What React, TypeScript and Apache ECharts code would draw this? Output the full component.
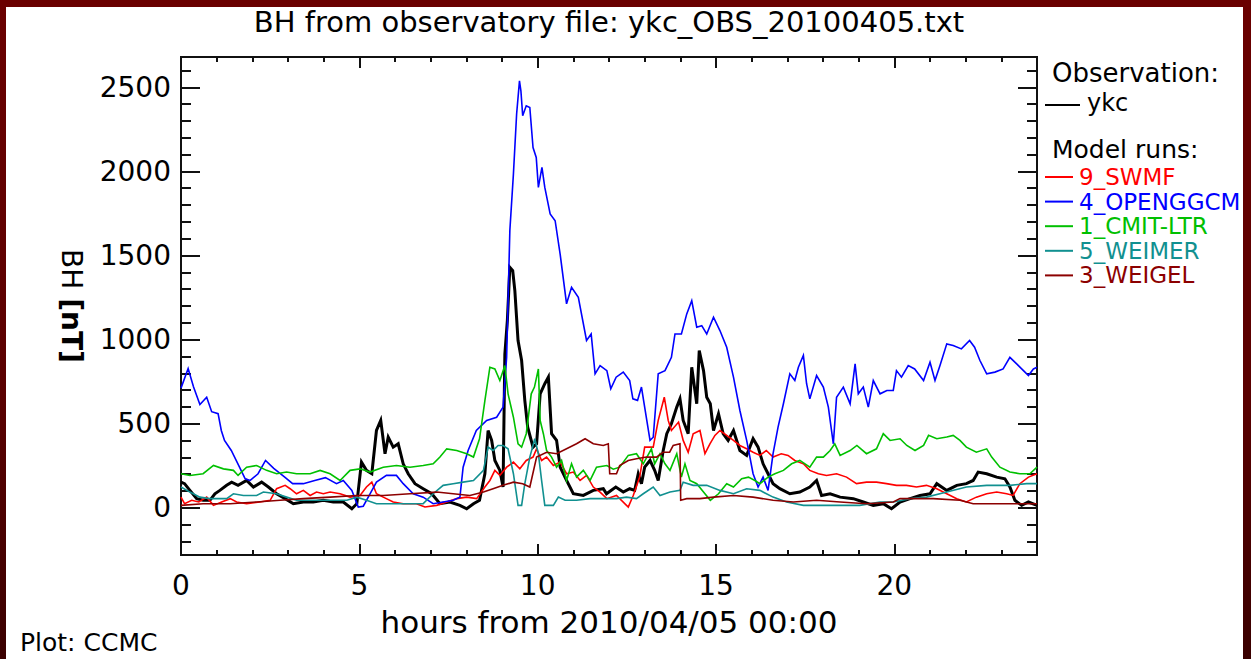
import React, { useEffect, useRef } from "react";
import * as echarts from "echarts";

// Magnetic perturbation BH at station ykc, 2010-04-05, observation vs. model runs.
// Each series: [hours from 2010/04/05 00:00, BH in nT]
const obsYkc: [number, number][] = [
  [0, 153], [0.1, 144], [0.25, 104], [0.44, 55], [0.62, 45], [0.81, 45], [0.95, 84], [1.09, 104],
  [1.28, 134], [1.42, 153], [1.6, 134], [1.84, 163], [2.03, 124], [2.26, 153], [2.45, 124],
  [2.68, 84], [2.92, 55], [3.15, 25], [3.43, 35], [3.71, 35], [3.99, 45], [4.27, 35], [4.55, 35],
  [4.79, -5], [4.93, 25], [5.06, 272], [5.2, 223], [5.35, 203], [5.48, 460], [5.6, 520],
  [5.72, 322], [5.81, 421], [5.95, 361], [6.09, 381], [6.23, 262], [6.37, 203], [6.56, 144],
  [6.79, 114], [7.03, 84], [7.26, 25], [7.54, 35], [7.82, 15], [8.01, -5], [8.2, 25], [8.37, 45],
  [8.52, 203], [8.61, 460], [8.71, 401], [8.8, 282], [8.94, 223], [9.03, 124], [9.08, 915],
  [9.15, 1113], [9.22, 1430], [9.3, 1410], [9.36, 1292], [9.45, 995], [9.55, 876], [9.64, 638],
  [9.72, 480], [9.87, 361], [9.97, 381], [10.07, 678], [10.2, 738], [10.3, 777], [10.39, 441],
  [10.53, 401], [10.63, 242], [10.81, 163], [11.0, 84], [11.28, 74], [11.56, 104], [11.84, 114],
  [11.93, 84], [12.19, 124], [12.4, 94], [12.58, 114], [12.72, 104], [12.82, 203], [12.91, 144],
  [13.0, 242], [13.15, 282], [13.28, 223], [13.38, 163], [13.52, 341], [13.62, 441], [13.75, 500],
  [13.9, 599], [13.99, 648], [14.08, 520], [14.22, 441], [14.32, 836], [14.46, 619], [14.53, 935],
  [14.65, 816], [14.74, 658], [14.84, 619], [14.93, 460], [15.07, 559], [15.2, 441], [15.34, 401],
  [15.49, 460], [15.67, 341], [15.86, 312], [16.04, 411], [16.18, 361], [16.32, 262], [16.46, 203],
  [16.6, 144], [16.79, 114], [17.07, 84], [17.35, 94], [17.63, 124], [17.82, 163], [17.96, 74],
  [18.2, 84], [18.48, 64], [18.85, 55], [19.13, 35], [19.41, 15], [19.69, 25], [19.92, -5],
  [20.16, 35], [20.44, 55], [20.72, 74], [21.0, 84], [21.19, 144], [21.47, 104], [21.75, 134],
  [22.02, 144], [22.21, 163], [22.35, 213], [22.59, 203], [22.87, 183], [23.1, 173], [23.24, 124],
  [23.38, 45], [23.57, 15], [23.76, 35], [24, 15],
];

const runSwmf: [number, number][] = [
  [0, 64], [0.1, 25], [0.3, 45], [0.5, 35], [0.72, 64], [0.91, 15], [1.14, 35], [1.38, 55],
  [1.56, 35], [1.84, 25], [2.21, 35], [2.5, 45], [2.68, 114], [2.92, 134], [3.06, 114], [3.24, 84],
  [3.43, 104], [3.62, 74], [3.8, 94], [3.99, 84], [4.18, 94], [4.46, 84], [4.74, 64], [5.02, 74],
  [5.2, 124], [5.35, 153], [5.48, 84], [5.67, 64], [5.95, 35], [6.23, 25], [6.6, 25], [6.84, 5],
  [7.17, 15], [7.45, 35], [7.73, 55], [8.01, 64], [8.29, 55], [8.52, 124], [8.66, 163], [8.8, 223],
  [8.94, 193], [9.13, 242], [9.32, 272], [9.5, 232], [9.68, 282], [9.87, 302], [9.97, 351],
  [10.11, 282], [10.25, 302], [10.44, 252], [10.63, 272], [10.81, 203], [11.0, 213], [11.19, 163],
  [11.37, 193], [11.56, 124], [11.75, 94], [11.94, 55], [12.21, 74], [12.54, 5], [12.68, 74],
  [12.86, 183], [13.0, 361], [13.24, 361], [13.38, 520], [13.55, 658], [13.66, 520], [13.75, 460],
  [13.95, 510], [14.08, 401], [14.22, 331], [14.36, 441], [14.55, 460], [14.69, 322], [14.83, 381],
  [14.97, 431], [15.11, 460], [15.3, 431], [15.49, 401], [15.67, 371], [15.86, 351], [16.04, 331],
  [16.23, 312], [16.41, 341], [16.6, 302], [16.83, 322], [17.02, 312], [17.21, 282], [17.45, 262],
  [17.63, 223], [17.87, 203], [18.1, 193], [18.38, 203], [18.66, 183], [18.94, 144], [19.22, 153],
  [19.5, 153], [19.78, 144], [20.06, 134], [20.34, 134], [20.62, 124], [20.9, 134], [21.19, 114],
  [21.47, 84], [21.75, 55], [22.02, 35], [22.3, 64], [22.59, 84], [22.87, 94], [23.15, 84],
  [23.33, 74], [23.52, 144], [23.76, 183], [24, 203],
];

const runOpenggcm: [number, number][] = [
  [0, 712], [0.2, 828], [0.35, 720], [0.53, 615], [0.72, 658], [0.86, 572], [1.04, 560],
  [1.13, 460], [1.22, 401], [1.41, 341], [1.64, 242], [1.8, 173], [1.94, 163], [2.16, 203],
  [2.37, 282], [2.6, 235], [2.9, 185], [3.13, 144], [3.43, 144], [3.75, 163], [4.05, 180],
  [4.36, 144], [4.55, 163], [4.79, 104], [4.97, 5], [5.11, 10], [5.3, 84], [5.48, 153],
  [5.76, 193], [6.04, 193], [6.23, 144], [6.51, 84], [6.79, 64], [7.07, 25], [7.35, 35],
  [7.63, 45], [7.82, 64], [7.91, 242], [8.05, 341], [8.28, 460], [8.57, 520], [8.85, 539],
  [9.03, 599], [9.13, 895], [9.22, 1648], [9.32, 1984], [9.41, 2341], [9.49, 2538], [9.53, 2479],
  [9.58, 2331], [9.68, 2390], [9.78, 2380], [9.87, 2142], [9.96, 2083], [10.02, 1905],
  [10.12, 2024], [10.2, 1905], [10.35, 1747], [10.49, 1707], [10.63, 1509], [10.81, 1213],
  [10.95, 1311], [11.14, 1252], [11.37, 995], [11.5, 1034], [11.61, 797], [11.75, 846],
  [11.94, 816], [12.05, 708], [12.2, 777], [12.4, 807], [12.58, 757], [12.67, 648], [12.8, 639],
  [12.91, 718], [13.0, 599], [13.15, 401], [13.24, 420], [13.38, 797], [13.57, 816], [13.75, 895],
  [13.85, 1034], [14.03, 1034], [14.18, 1153], [14.32, 1232], [14.46, 1074], [14.6, 1083],
  [14.74, 1034], [14.93, 1133], [15.11, 1054], [15.3, 955], [15.49, 777], [15.67, 579],
  [15.86, 401], [16.04, 203], [16.18, 124], [16.32, 183], [16.46, 104], [16.6, 322], [16.74, 480],
  [16.89, 619], [17.07, 797], [17.21, 757], [17.31, 836], [17.45, 906], [17.54, 738], [17.63, 648],
  [17.82, 787], [18.01, 718], [18.15, 599], [18.29, 381], [18.38, 658], [18.57, 718], [18.76, 619],
  [18.9, 856], [18.99, 678], [19.13, 718], [19.27, 599], [19.41, 757], [19.6, 678], [19.79, 698],
  [19.97, 698], [20.06, 816], [20.2, 777], [20.39, 846], [20.57, 826], [20.82, 757], [21.0, 866],
  [21.14, 757], [21.28, 846], [21.47, 975], [21.65, 965], [21.88, 945], [22.11, 995], [22.25, 955],
  [22.4, 876], [22.59, 797], [22.82, 807], [23.05, 826], [23.24, 895], [23.43, 856], [23.62, 816],
  [23.76, 787], [23.9, 826], [24, 836],
];

const runCmitLtr: [number, number][] = [
  [0, 203], [0.25, 193], [0.62, 203], [0.91, 252], [1.19, 232], [1.47, 223], [1.6, 193],
  [1.84, 242], [2.12, 252], [2.4, 223], [2.68, 203], [2.96, 213], [3.24, 203], [3.62, 203],
  [3.9, 223], [4.18, 203], [4.46, 163], [4.74, 223], [5.02, 232], [5.3, 213], [5.67, 242],
  [6.04, 252], [6.42, 242], [6.79, 252], [7.07, 262], [7.26, 302], [7.45, 351], [7.73, 341],
  [8.01, 322], [8.2, 302], [8.37, 411], [8.52, 638], [8.66, 836], [8.8, 826], [8.94, 757],
  [9.08, 846], [9.17, 678], [9.32, 539], [9.45, 381], [9.55, 361], [9.68, 441], [9.82, 678],
  [9.91, 718], [10.02, 826], [10.07, 520], [10.16, 441], [10.25, 341], [10.39, 302], [10.53, 242],
  [10.67, 282], [10.81, 163], [10.95, 262], [11.09, 183], [11.28, 223], [11.47, 163], [11.65, 242],
  [11.94, 252], [12.12, 230], [12.3, 242], [12.54, 312], [12.77, 322], [12.96, 262], [13.19, 351],
  [13.28, 262], [13.43, 322], [13.57, 262], [13.71, 223], [13.9, 322], [14.03, 183], [14.13, 262],
  [14.27, 163], [14.46, 144], [14.65, 94], [14.84, 45], [15.07, 84], [15.3, 144], [15.49, 124],
  [15.72, 173], [15.91, 183], [16.09, 163], [16.23, 144], [16.46, 183], [16.65, 203], [16.89, 223],
  [17.12, 262], [17.35, 282], [17.63, 242], [17.82, 302], [18.01, 302], [18.2, 341], [18.33, 381],
  [18.48, 312], [18.76, 341], [18.95, 371], [19.22, 322], [19.5, 351], [19.69, 441], [19.88, 401],
  [20.16, 411], [20.35, 371], [20.58, 341], [20.82, 371], [20.96, 431], [21.19, 411], [21.47, 421],
  [21.65, 431], [21.84, 401], [22.02, 361], [22.3, 331], [22.59, 351], [22.73, 302], [22.96, 242],
  [23.24, 213], [23.52, 203], [23.8, 203], [24, 242],
];

const runWeimer: [number, number][] = [
  [0, 124], [0.25, 94], [0.53, 64], [0.81, 55], [1.28, 55], [1.47, 84], [1.75, 74], [2.12, 74],
  [2.31, 94], [2.68, 84], [2.96, 64], [3.24, 45], [3.62, 45], [4.18, 45], [4.65, 45], [4.93, 64],
  [5.2, 45], [5.48, 25], [6.23, 25], [6.79, 25], [7.07, 84], [7.35, 134], [7.63, 144], [7.91, 153],
  [8.2, 163], [8.48, 223], [8.61, 361], [8.75, 341], [8.89, 371], [9.03, 371], [9.17, 351],
  [9.32, 203], [9.45, 15], [9.55, 15], [9.64, 144], [9.78, 302], [9.92, 411], [10.02, 322],
  [10.11, 163], [10.2, 15], [10.44, 15], [10.58, 64], [10.77, 45], [11.09, 45], [11.47, 55],
  [11.84, 55], [12.21, 55], [12.49, 64], [12.77, 55], [12.96, 84], [13.24, 124], [13.43, 74],
  [13.71, 94], [13.99, 104], [14.08, 153], [14.36, 134], [14.74, 134], [15.11, 104], [15.49, 84],
  [15.86, 114], [16.23, 104], [16.6, 64], [16.98, 35], [17.45, 15], [18.29, 15], [19.03, 15],
  [19.6, 35], [19.97, 35], [20.44, 55], [20.9, 64], [21.47, 94], [22.02, 124], [22.59, 134],
  [23.24, 134], [23.71, 144], [24, 144],
];

const runWeigel: [number, number][] = [
  [0, 15], [0.62, 25], [1.38, 25], [2.12, 35], [2.78, 45], [3.43, 55], [4.18, 64], [4.93, 74],
  [5.67, 74], [6.42, 84], [7.17, 94], [7.63, 84], [8.1, 74], [8.48, 94], [8.75, 114], [9.03, 134],
  [9.32, 153], [9.58, 144], [9.78, 124], [9.97, 302], [10.25, 331], [10.53, 322], [10.81, 351],
  [11.09, 381], [11.33, 411], [11.56, 381], [11.84, 371], [11.98, 381], [12.02, 203], [12.21, 203],
  [12.3, 252], [12.54, 282], [12.77, 292], [13.05, 302], [13.33, 302], [13.52, 331], [13.7, 331],
  [13.8, 371], [13.99, 381], [14.01, 45], [14.18, 55], [14.55, 55], [14.93, 64], [15.49, 74],
  [16.04, 64], [16.6, 45], [17.17, 35], [17.82, 45], [18.48, 35], [19.22, 25], [19.97, 35],
  [20.16, 55], [21.09, 55], [21.84, 45], [22.21, 25], [22.96, 25], [23.52, 25], [24, 25],
];

const obsNames = ["ykc"];
const modelNames = ["9_SWMF", "4_OPENGGCM", "1_CMIT-LTR", "5_WEIMER", "3_WEIGEL"];
const modelColors = ["#ff0000", "#0000ff", "#00c000", "#119090", "#8c0000"];
const modelData = [runSwmf, runOpenggcm, runCmitLtr, runWeimer, runWeigel];

const xMajorTicks = [0, 5, 10, 15, 20];
const xMinorTicks = [1, 2, 3, 4, 6, 7, 8, 9, 11, 12, 13, 14, 16, 17, 18, 19, 21, 22, 23];
const yMajorTicks = [0, 500, 1000, 1500, 2000, 2500];
const yMinorTicks = [-200, -100, 100, 200, 300, 400, 600, 700, 800, 900, 1100, 1200, 1300, 1400,
  1600, 1700, 1800, 1900, 2100, 2200, 2300, 2400, 2600];

const FONT = "DejaVu Sans";
const AXIS_COLOR = "#111";

export default function App() {
  const ref = useRef<HTMLDivElement>(null);

  useEffect(() => {
    if (!ref.current) return;
    const chart = echarts.init(ref.current, undefined, { renderer: "svg" });

    const gridLeft = 181, gridTop = 57, gridW = 856, gridH = 498;
    const plotCenterX = gridLeft + gridW / 2;

    const tickAxisX = (position: string, values: number[], len: number, labels: boolean) => ({
      type: "value",
      position,
      min: 0,
      max: 24,
      splitLine: { show: false },
      axisLine: { show: false, onZero: false },
      axisTick: {
        show: true, inside: true, length: len, customValues: values,
        lineStyle: { color: AXIS_COLOR, width: 2 },
      },
      axisLabel: labels
        ? {
            show: true, customValues: values, color: "#000", fontFamily: FONT, fontSize: 28, margin: 16,
            formatter: (v: number) => String(v),
          }
        : { show: false },
    });
    const tickAxisY = (position: string, values: number[], len: number, labels: boolean) => ({
      type: "value",
      position,
      min: -280,
      max: 2680,
      splitLine: { show: false },
      axisLine: { show: false, onZero: false },
      axisTick: {
        show: true, inside: true, length: len, customValues: values,
        lineStyle: { color: AXIS_COLOR, width: 2 },
      },
      axisLabel: labels
        ? {
            show: true, customValues: values, color: "#000", fontFamily: FONT, fontSize: 28, margin: 10,
            formatter: (v: number) => String(v),
          }
        : { show: false },
    });

    const xAxes: any[] = [
      {
        ...tickAxisX("bottom", xMajorTicks, 11, true),
        name: "hours from 2010/04/05 00:00",
        nameLocation: "middle",
        nameGap: 51,
        nameTextStyle: { color: "#000", fontFamily: FONT, fontSize: 31 },
      },
      tickAxisX("bottom", xMinorTicks, 5, false),
      tickAxisX("top", xMajorTicks, 11, false),
      tickAxisX("top", xMinorTicks, 5, false),
    ];
    const yAxes: any[] = [
      {
        ...tickAxisY("left", yMajorTicks, 19, true),
        name: "{a|BH }{b|[nT]}",
        nameLocation: "middle",
        nameGap: 96,
        nameRotate: -90,
        nameTextStyle: {
          color: "#000",
          rich: {
            a: { fontFamily: FONT, fontSize: 28, color: "#000" },
            b: { fontFamily: FONT, fontSize: 28, fontWeight: "bold", color: "#000" },
          },
        },
      },
      tickAxisY("left", yMinorTicks, 10, false),
      tickAxisY("right", yMajorTicks, 19, false),
      tickAxisY("right", yMinorTicks, 10, false),
    ];

    const lineSeries = (name: string, data: [number, number][], color: string, width: number) => ({
      name,
      type: "line",
      xAxisIndex: 0,
      yAxisIndex: 0,
      data,
      symbol: "none",
      showSymbol: false,
      lineStyle: { color, width, join: "miter" },
      itemStyle: { color },
      clip: true,
    });

    // legend block at the right of the frame
    const legendX = 1045;
    const textX = 1079;
    const graphics: any[] = [
      {
        type: "text", x: plotCenterX, y: 22,
        style: {
          text: "BH from observatory file: ykc_OBS_20100405.txt",
          fontFamily: FONT, fontSize: 29, fill: "#000", align: "center", verticalAlign: "middle",
        },
      },
      {
        type: "text", left: 1052, top: 60,
        style: { text: "Observation:", fontFamily: FONT, fontSize: 26, fill: "#000" },
      },
      {
        type: "line", shape: { x1: legendX, y1: 105, x2: 1080, y2: 105 },
        style: { stroke: "#000", lineWidth: 2 },
      },
      {
        type: "text", x: 1087, y: 103,
        style: { text: obsNames[0], fontFamily: FONT, fontSize: 24, fill: "#000", verticalAlign: "middle" },
      },
      {
        type: "text", left: 1052, top: 137,
        style: { text: "Model runs:", fontFamily: FONT, fontSize: 25, fill: "#000" },
      },
      {
        type: "text", left: 20, top: 630,
        style: { text: "Plot: CCMC", fontFamily: FONT, fontSize: 25, fill: "#000" },
      },
    ];
    modelNames.forEach((n, i) => {
      const y = 177 + i * 24.6;
      graphics.push({
        type: "line", shape: { x1: legendX, y1: y, x2: 1073, y2: y },
        style: { stroke: modelColors[i], lineWidth: 2 },
      });
      graphics.push({
        type: "text", x: textX, y: y,
        style: { text: n, fontFamily: FONT, fontSize: 23, fill: modelColors[i], verticalAlign: "middle" },
      });
    });

    chart.setOption({
      animation: false,
      backgroundColor: "transparent",
      grid: {
        left: gridLeft, top: gridTop, width: gridW, height: gridH,
        show: true, borderColor: AXIS_COLOR, borderWidth: 2, backgroundColor: "transparent",
        containLabel: false,
      },
      xAxis: xAxes,
      yAxis: yAxes,
      graphic: graphics,
      series: [
        lineSeries(obsNames[0], obsYkc, "#000000", 3),
        ...modelNames.map((n, i) => lineSeries(n, modelData[i], modelColors[i], 1.6)),
      ],
    });

    return () => chart.dispose();
  }, []);

  return (
    <div
      style={{
        position: "fixed", left: 0, top: 0, width: 1251, height: 659,
        background: "linear-gradient(180deg, #6a0000 0%, #5a0000 60%, #3a0000 100%)",
      }}
    >
      <div style={{ position: "absolute", left: 6, top: 7, right: 8, bottom: 0, background: "#ffffff" }} />
      <div ref={ref} style={{ position: "absolute", left: 0, top: 0, width: 1251, height: 659 }} />
    </div>
  );
}
